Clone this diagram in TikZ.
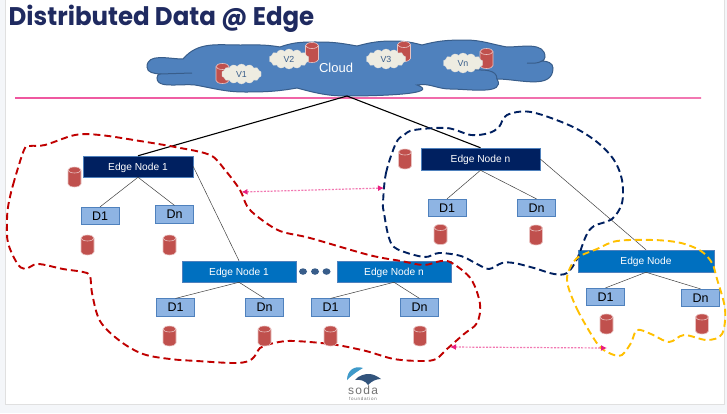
\documentclass[tikz,border=0pt]{standalone}
\usepackage{fontspec}
\setmainfont{Liberation Sans}
\newfontfamily\titlefont{Poppins}
\usetikzlibrary{arrows.meta,shapes.geometric,shapes.symbols}
\definecolor{navybox}{HTML}{002060}
\definecolor{bluebox}{HTML}{0070C0}
\definecolor{databox}{HTML}{8EB4E3}
\definecolor{databord}{HTML}{4F81BD}
\definecolor{cloudblue}{HTML}{4F81BD}
\definecolor{cloudbord}{HTML}{385D8A}
\definecolor{dbred}{HTML}{C0504D}
\definecolor{cream}{HTML}{EEECE1}
\definecolor{blobred}{HTML}{C00000}
\definecolor{blobyellow}{HTML}{FFC000}
\definecolor{linkpink}{HTML}{E91E7F}
\definecolor{titleblue}{HTML}{1F2A60}
\definecolor{pagegray}{HTML}{F4F6F9}
\tikzset{
  navynode/.style={rectangle,fill=navybox,draw=databord,line width=0.5pt,text=white,font=\fontsize{10.2}{12}\selectfont,text depth=0pt,inner sep=0pt},
  bluenode/.style={rectangle,fill=bluebox,draw=databord,line width=0.5pt,text=white,font=\fontsize{10.2}{12}\selectfont,text depth=0pt,inner sep=0pt,minimum height=21pt},
  datanode/.style={rectangle,fill=databox,draw=databord,line width=0.7pt,text=black,font=\fontsize{12.5}{14}\selectfont,minimum width=38pt,minimum height=17.5pt,inner sep=0pt},
  dbcan/.pic={
    \draw [fill=dbred,draw=white!65!dbred,line width=0.6pt] (-6.5,-7) -- (-6.5,7) arc[start angle=180,end angle=0,x radius=6.5,y radius=3] -- (6.5,-7) arc[start angle=0,end angle=-180,x radius=6.5,y radius=3] -- cycle;
    \draw [draw=white!65!dbred,line width=0.6pt] (-6.5,-7) arc[start angle=180,end angle=0,x radius=6.5,y radius=3];
  },
  vmcloud/.style={cloud,cloud puffs=14,cloud puff arc=120,aspect=2,fill=cream,draw=white!85!black,line width=0.3pt,text=cloudbord,font=\fontsize{8.8}{10}\selectfont,minimum width=40pt,minimum height=20pt,inner sep=0pt},
  wire/.style={draw=black!75,line width=0.5pt},
  uplink/.style={draw=black,line width=1.1pt},
  blob/.style={line width=1.9pt,dash pattern=on 7pt off 4pt,smooth cycle,tension=0.55},
  pinklink/.style={draw=linkpink!60,line width=1.2pt,dash pattern=on 2pt off 1.4pt,{Latex[color=linkpink,length=6pt,width=6pt]}-{Latex[color=linkpink,length=6pt,width=6pt]}},
  dot/.style={ellipse,fill=cloudbord,minimum width=8pt,minimum height=6.5pt,inner sep=0pt}
}
\begin{document}
\begin{tikzpicture}[x=1pt,y=-1pt]
\useasboundingbox (0,0) rectangle (727,413);
%page and slide
\fill [pagegray] (0,0) rectangle (727,413);
\fill [white,draw=black!12,line width=0.6pt] (5,-2) rectangle (724,404);

%title
\node [anchor=base west,inner sep=0pt,text=titleblue,font=\fontsize{25.5}{30}\selectfont\titlefont\bfseries,xscale=0.96] (title) at (8.5,25) {Distributed Data @ Edge};

%pink line under the cloud
\shade [left color=linkpink!75,middle color=linkpink!25,right color=linkpink!60] (15,97.7) rectangle (701,98.5);

%main cloud
\draw [fill=cloudblue,draw=cloudbord,line width=1pt]
  (160,74) to[out=175,in=-90] (147,67) to[out=90,in=180] (183,59)
  to[out=50,in=180] (240,45) to[out=0,in=170] (280,47)
  to[out=20,in=180] (320,42) to[out=0,in=170] (357,46)
  to[out=15,in=180] (393,41) to[out=0,in=165] (422,45)
  to[out=15,in=180] (465,40) to[out=0,in=170] (507,47)
  to[out=0,in=90] (545,57) to[out=-90,in=30] (542,61)
  to[out=0,in=90] (553,68) to[out=-90,in=0] (497,79)
  to[out=-60,in=0] (450,89) to[out=180,in=10] (417,85)
  to[out=-20,in=0] (347,96) to[out=180,in=-15] (297,88)
  to[out=190,in=0] (245,92) to[out=180,in=-10] (195,85)
  to[out=175,in=0] (175,85) to[out=180,in=-90] (157,78)
  to[out=90,in=180] cycle;
\draw [draw=cloudbord,line width=1pt] (160,74) -- (192,73);
\draw [draw=cloudbord,line width=1pt] (527,63) to[out=0,in=210] (542,61);
\draw [draw=cloudbord,line width=1pt] (473,70) to[out=0,in=90] (497,79);
\coordinate (cloudtip) at (347,96);
\node [text=white,font=\fontsize{13}{15}\selectfont,inner sep=0pt] (cloudlabel) at (336,67.5) {Cloud};

%cylinders and small clouds in the main cloud
\pic (dbVa) at (222.5,73.5) {dbcan};
\pic (dbVb) at (312,52.5) {dbcan};
\pic (dbVc) at (404,51.5) {dbcan};
\pic (dbVn) at (486.5,58.5) {dbcan};
\node [vmcloud] (Va) at (241.5,74) {V1};
\node [vmcloud] (Vb) at (289,59) {V2};
\node [vmcloud] (Vc) at (386,59) {V3};
\node [vmcloud] (Vn) at (463,63) {Vn};

%edge nodes
\node [navynode,minimum width=110pt,minimum height=21pt] (edgeA) at (138,166.5) {Edge Node 1};
\node [navynode,minimum width=119pt,minimum height=22pt] (edgeN) at (480.5,159) {Edge Node n};
\node [bluenode,minimum width=114pt] (subA) at (239,271.5) {Edge Node 1};
\node [bluenode,minimum width=114pt] (subN) at (394,271.5) {Edge Node n};
\node [bluenode,minimum width=136pt,minimum height=22pt] (edgeR) at (646,261) {Edge Node};

%three dots
\foreach \x/\n in {303/a,315/b,326.5/c}
	\node [dot] (dot\n) at (\x,271.5) {};

%data boxes
\node [datanode] (dA1) at (100,216) {D1};
\node [datanode] (dAn) at (174.5,214.5) {Dn};
\node [datanode] (dN1) at (447,208) {D1};
\node [datanode] (dNn) at (536.5,208) {Dn};
\node [datanode] (sA1) at (175.5,307.5) {D1};
\node [datanode] (sAn) at (264.5,307.5) {Dn};
\node [datanode] (sN1) at (330.5,307.5) {D1};
\node [datanode] (sNn) at (419.5,307.5) {Dn};
\node [datanode] (dR1) at (605.5,297) {D1};
\node [datanode] (dRn) at (700.5,298) {Dn};

%thin lines of the trees
\foreach \a/\b in {edgeA/dA1,edgeA/dAn,edgeN/dN1,edgeN/dNn,subA/sA1,subA/sAn,subN/sN1,subN/sNn,edgeR/dR1,edgeR/dRn}
	\draw [wire] (\a.south) -- (\b.north);
\draw [wire] (edgeA.east) -- (subA.north);
\draw [wire] (edgeN.east) -- (edgeR.north);

%lines up to the cloud
\draw [uplink] (edgeA.north) -- (cloudtip);
\draw [uplink] (edgeN.north) -- (cloudtip);

%red group
\draw [blob,draw=blobred] plot coordinates {(8,207) (13,185) (24,150) (30,146) (45,145) (75,135) (100,135) (140,141) (175,147) (210,155) (225,170) (240,190) (247,206) (258,217) (280,231) (310,238) (369,255) (401,261) (424,265) (441,261) (452,263) (471,279) (480,304) (477,323) (464,334) (447,349) (436,359) (422,361) (394,359) (366,351) (337,345) (310,342) (287,341) (270,344) (260,348) (252,359) (237,363) (197,361) (170,359) (143,354) (120,341) (100,321) (92,293) (90,276) (83,272) (63,269) (38,264) (25,269) (17,263) (8,243) (7,223)};

%navy group
\draw [blob,draw=navybox] plot coordinates {(383,203) (386,173) (396,143) (404,135) (414,130) (447,128) (471,135) (489,133) (499,127) (507,115) (531,112) (571,126) (597,142) (614,160) (622,180) (622,203) (612,219) (594,226) (586,236) (577,259) (567,273) (554,274) (534,268) (514,263) (502,263) (489,269) (477,264) (461,256) (439,253) (424,257) (397,249) (389,238) (384,213)};

%yellow group
\draw [blob,draw=blobyellow] plot coordinates {(568,286) (577,309) (591,334) (601,348) (614,355) (622,355) (631,343) (637,330) (651,334) (669,342) (684,335) (707,340) (722,334) (725,309) (717,279) (712,263) (701,251) (681,243) (654,240) (617,241) (597,249) (577,258) (568,273)};

%cylinders
\pic (cylA) at (74.5,177) {dbcan};
\pic (cylN) at (405,159) {dbcan};
\foreach \n/\x/\y in {a/87.5/245,b/169.5/245,c/440.5/234.5,d/536/235,e/169.5/336,f/264.5/336,g/330.5/336,h/420/336,i/606.5/324,j/702/324}
	\pic (cyl\n) at (\x,\y) {dbcan};

%dashed pink arrows
\coordinate (linkAw) at (241.5,192);
\coordinate (linkAe) at (384,188);
\coordinate (linkBw) at (450,347);
\coordinate (linkBe) at (607,348);
\draw [pinklink] (linkAw) -- (linkAe);
\draw [pinklink] (linkBw) -- (linkBe);

%logo
\fill [cloudblue!80!cyan] (347,380) .. controls (347,371) and (354,365) .. (363,368) .. controls (358,371) and (353,374) .. (347,380) -- cycle;
\fill [cloudbord!90!black] (355,380) .. controls (359,375) and (365,374) .. (369,374) .. controls (373,374) and (377,376) .. (381,379) .. controls (376,379) and (372,381) .. (368,385) .. controls (366,381) and (360,379) .. (355,380) -- cycle;
\node [text=black!55,font=\fontsize{12}{13}\selectfont,inner sep=0pt] (sodaword) at (363,390.5) {s\kern1.3pt o\kern1.3pt d\kern1.3pt a};
\node [text=black!55,font=\fontsize{4.5}{5}\selectfont,inner sep=0pt] (sodasub) at (363,398.5) {f\,o\,u\,n\,d\,a\,t\,i\,o\,n};
\end{tikzpicture}
\end{document}
